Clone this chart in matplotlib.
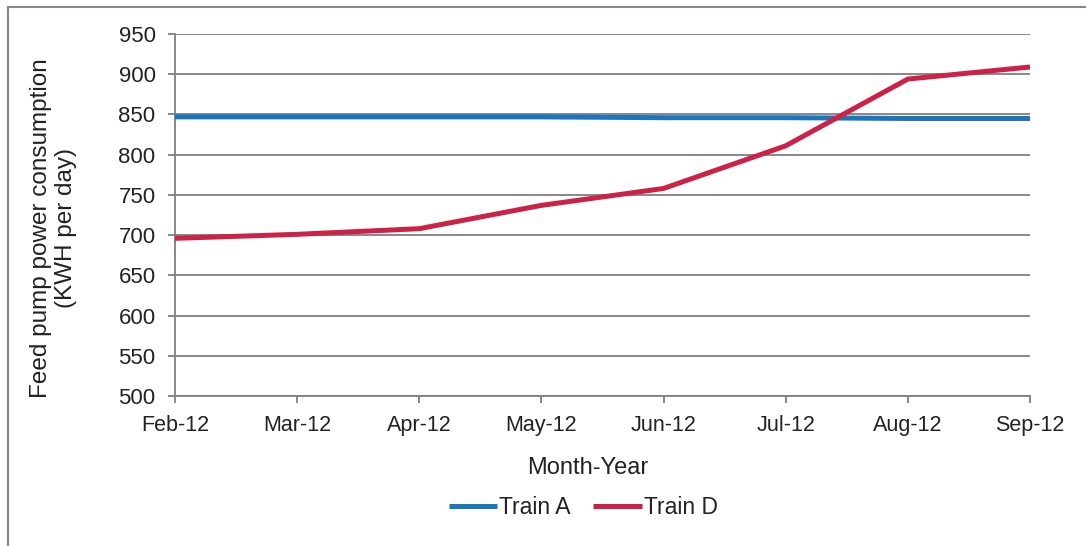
import numpy as np
import matplotlib.pyplot as plt
from matplotlib.lines import Line2D

# data
months = ['Feb-12', 'Mar-12', 'Apr-12', 'May-12', 'Jun-12', 'Jul-12', 'Aug-12', 'Sep-12']
train_a = [847, 847, 847, 847, 846, 846, 845, 845]
train_d = [696, 701, 708, 737, 758, 811, 894, 909]
y_ticks = [500, 550, 600, 650, 700, 750, 800, 850, 900, 950]

plt.rcParams['font.family'] = ['Liberation Sans', 'DejaVu Sans']

fig = plt.figure(figsize=(10.86, 5.46), dpi=100)
ax = fig.add_axes([0.1611, 0.2747, 0.7873, 0.6630])

x = np.arange(len(months))
ax.plot(x, train_a, color='#1b76bd', lw=3.6, label='Train A', solid_capstyle='butt', zorder=3)
ax.plot(x, train_d, color='#cc2247', lw=3.6, label='Train D', solid_capstyle='butt', zorder=3)

ax.set_xlim(0, len(months) - 1)
ax.set_ylim(500, 950)
ax.set_xticks(x)
ax.set_xticklabels(months)
ax.set_yticks(y_ticks)

ax.grid(axis='y', color='#7f7f7f', lw=1.3)
ax.set_axisbelow(True)
for s in ['top', 'right']:
    ax.spines[s].set_visible(False)
for s in ['left', 'bottom']:
    ax.spines[s].set_color('#7f7f7f')
    ax.spines[s].set_linewidth(1.3)
ax.tick_params(axis='both', colors='#7f7f7f', length=5, width=1.3, labelcolor='#222222')
ax.tick_params(axis='y', labelsize=16, pad=9)
ax.tick_params(axis='x', labelsize=15.5, pad=9)

ax.set_ylabel('Feed pump power consumption\n(KWH per day)', fontsize=17.5, color='#222222')
ax.yaxis.set_label_coords(-0.1146, 0.464)
ax.set_xlabel('Month-Year', fontsize=17, color='#222222')
ax.xaxis.set_label_coords(0.483, -0.1685)

fig.legend(loc='center', bbox_to_anchor=(0.537, 0.0696), ncol=2, frameon=False,
           fontsize=16.5, handlelength=2.1, handletextpad=0.1, columnspacing=1.0,
           labelcolor='#222222')

# outer chart frame (left and top edges visible in the reference)
fig.add_artist(Line2D([8 / 1086, 8 / 1086], [0, 1 - 7 / 546], color='#888888', lw=1.5))
fig.add_artist(Line2D([8 / 1086, 1], [1 - 7 / 546, 1 - 7 / 546], color='#888888', lw=1.5))

fig.savefig('out.png', dpi=100)
